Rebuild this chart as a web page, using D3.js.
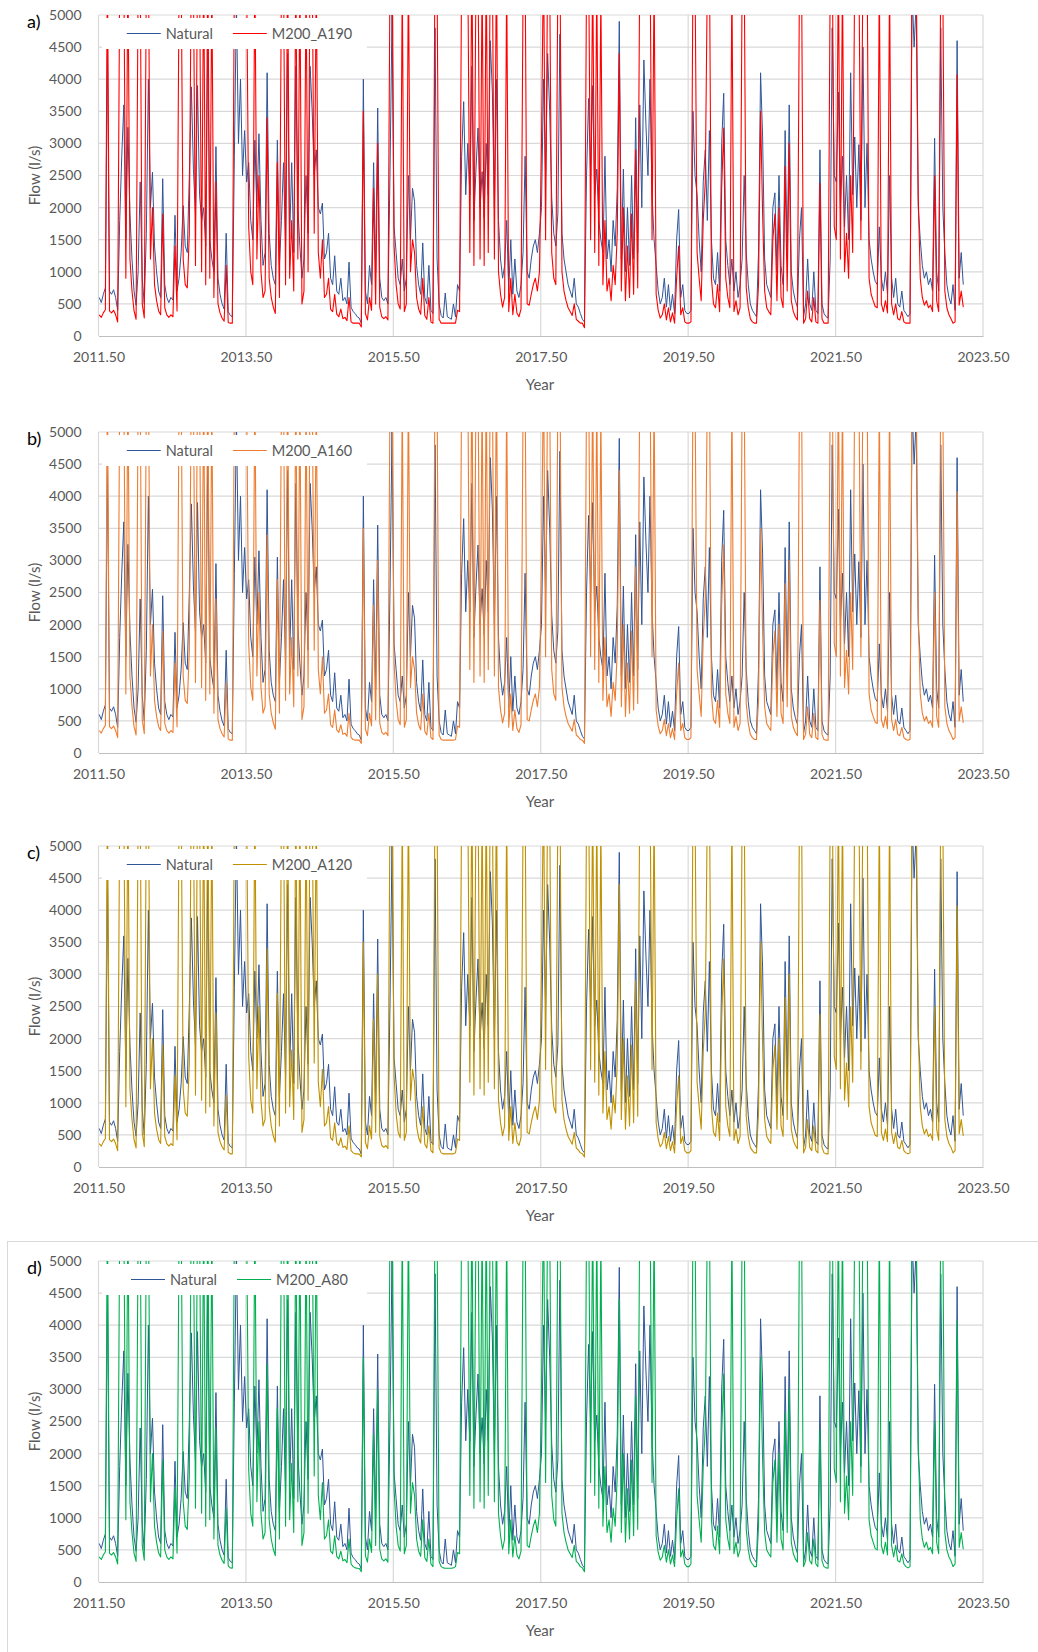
<!DOCTYPE html>
<html>
<head>
<meta charset="utf-8">
<script src="https://cdn.jsdelivr.net/npm/d3@7"></script>
<style>
  body { margin: 0; background: #fff; }
  svg { display: block; }
  text { font-family: Lato, "Open Sans", "Liberation Sans", sans-serif; }
</style>
</head>
<body>
<svg id="chart" width="1038" height="1652"></svg>
<script>
// Flow series sampled every 10 days (36 steps per year), starting July 2011.
const startYear = 2011.51;
const stepYears = 1 / 36;

const naturalFlow = [
  600,520,650,750,4600,700,650,720,600,400,1800,2800,3600,1500,3250,1900,1200,700,480,1000,2400,900,500,1600,4000,2000,2550,1400,1000,700,600,2450,800,600,520,600,
  560,1880,700,900,1300,2030,1400,1300,2500,3880,2600,1900,3900,2200,1800,2000,1400,4600,1500,1200,1000,2950,900,650,500,420,1600,380,320,300,2800,5200,3000,4000,2500,3200,
  2400,2700,1800,1500,3050,2000,3150,1800,1100,1300,4100,1600,1100,900,800,3050,1100,1800,2700,1400,4400,1500,2700,1300,4200,2000,1400,900,1200,2500,1600,4200,3500,2500,2900,2000,
  1900,2070,1200,1300,1600,900,800,1250,700,650,900,550,600,500,1150,450,380,350,300,280,200,4000,700,500,1100,800,2700,1000,3550,900,600,550,600,500,2500,5000,
  1700,1300,900,800,1200,700,900,2500,1500,2300,2100,1100,800,650,1450,600,500,1100,400,350,4800,1200,500,320,280,670,300,280,260,500,300,800,700,2800,3650,2200,
  3000,2200,4200,1800,2600,3240,2000,2560,1840,3000,2200,4600,3800,2000,4000,1800,1200,900,1100,1800,700,1500,650,1200,700,600,800,1300,2800,1000,900,1200,1400,1500,1300,1600,
  2000,4000,2500,4400,3500,2150,1600,1400,1900,4700,1600,1200,1000,800,700,600,900,500,450,350,260,220,2500,3700,2500,3900,2200,2600,1800,1500,1300,2800,1200,1500,1000,1800,
  1400,2300,4900,1200,2600,1000,2000,1100,2500,1200,3400,1300,3600,2000,4300,3300,2500,4000,2200,1500,1100,700,500,600,900,450,800,400,650,350,1500,1970,600,800,400,350,
  350,400,3500,2500,2200,1500,1000,2400,2900,1800,3200,1500,900,800,1300,700,3000,3780,1500,1100,800,1200,700,1000,600,800,1200,2500,1300,800,500,400,350,300,1300,4100,
  3100,1200,800,700,600,2000,2230,1000,2500,1100,800,3200,1200,3600,1000,700,550,450,1500,2000,300,500,1200,500,400,1000,400,350,2900,500,350,300,280,1200,4800,2500,
  2400,3800,2000,2800,1700,2500,1500,4100,2200,3100,2000,2980,1800,4500,2000,3000,1500,1200,1000,850,800,1700,900,700,1000,650,2500,900,600,900,500,450,700,400,350,300,
  350,5400,4500,5200,2000,1500,1100,900,1000,800,900,700,3080,1000,700,4800,2000,1300,800,600,500,800,400,4600,900,1300,800
];

const flowA190 = [
  330,290,360,410,5800,390,360,400,330,220,5600,6000,5800,900,5800,1200,700,390,260,5600,5800,500,280,5600,6000,1200,2000,800,550,390,330,1900,440,330,290,330,
  300,1400,390,5600,5800,1200,800,750,1600,6000,5600,1100,5800,5600,1000,5800,800,6000,900,5600,600,2400,500,360,280,230,1100,210,200,200,5600,6000,5800,6000,5600,5800,
  5600,1700,1000,800,5800,1200,2500,1000,600,700,3400,900,600,450,350,2700,600,5600,5800,800,6000,900,1800,700,5800,1200,5600,500,700,5600,1000,6000,5800,1600,5600,1300,
  900,1500,600,650,900,420,380,650,340,300,420,270,290,240,600,220,200,200,200,200,140,3500,350,250,600,400,2300,500,3000,450,300,270,300,250,5600,6000,
  1400,800,500,420,5600,380,500,5800,1000,1500,1300,600,420,340,900,320,260,600,220,200,6000,5600,260,200,200,200,200,200,200,200,200,400,380,5800,6000,5600,
  5800,1300,6000,1100,5600,5800,1200,5600,1100,5800,1300,6000,5800,1200,6000,1000,650,450,600,5600,380,900,330,650,360,300,420,5400,5800,500,480,650,800,900,700,1000,
  3000,6000,1500,5800,5600,1300,900,800,5600,6000,1000,700,550,440,380,320,500,260,230,200,200,130,5600,6000,1500,5800,1300,5600,1100,5400,800,1800,700,900,550,1100,
  800,1600,4400,700,2000,550,1400,600,1900,650,2900,750,5800,5600,6000,5600,5800,6000,1500,5600,650,400,280,330,500,250,440,220,360,200,900,1400,330,440,220,200,
  200,220,5800,5600,1300,900,550,1800,2400,5600,6000,900,500,440,800,380,2300,3240,900,600,440,5600,380,550,330,440,5600,5800,750,440,270,220,200,200,800,3500,
  1900,700,440,380,330,1500,1900,550,2000,600,440,2640,700,3000,550,380,300,250,5600,5800,200,270,700,270,220,600,220,200,2380,270,200,200,200,5600,6000,1700,
  1500,5800,1200,5600,1000,1600,900,2500,1300,5800,5600,6000,1500,5800,5600,6000,900,650,550,460,440,5600,500,380,550,360,5600,500,330,500,270,250,380,220,200,200,
  200,6000,5600,5800,2200,900,600,480,550,440,480,380,2500,550,380,5800,5600,700,440,330,270,200,220,4070,480,700,450
];

const flowA160 = [
  350,310,380,430,5800,410,380,420,350,240,5600,6000,5800,920,5800,1200,720,410,280,5600,5800,520,300,5600,6000,1200,2000,820,570,410,350,1900,460,350,310,350,
  320,1400,410,5600,5800,1200,820,770,1600,6000,5600,1100,5800,5600,1020,5800,820,6000,920,5600,620,2400,520,380,300,250,1100,220,200,200,5600,6000,5800,6000,5600,5800,
  5600,1700,1020,820,5800,1200,2500,1020,620,720,3400,920,620,470,370,2700,620,5600,5800,820,6000,920,1800,720,5800,1200,5600,520,720,5600,1020,6000,5800,1600,5600,1300,
  920,1500,620,670,920,440,400,670,360,320,440,290,310,260,620,240,210,200,200,200,150,3500,370,270,620,420,2300,520,3000,470,320,290,320,270,5600,6000,
  1400,820,520,440,5600,400,520,5800,1020,1500,1300,620,440,360,920,340,280,620,240,210,6000,5600,280,210,200,200,200,200,200,200,210,420,400,5800,6000,5600,
  5800,1300,6000,1100,5600,5800,1200,5600,1100,5800,1300,6000,5800,1200,6000,1020,670,470,620,5600,400,920,350,670,380,320,440,5400,5800,520,500,670,820,920,720,1020,
  3000,6000,1500,5800,5600,1300,920,820,5600,6000,1020,720,570,460,400,340,520,280,250,210,200,150,5600,6000,1500,5800,1300,5600,1100,5400,820,1800,720,920,570,1100,
  820,1600,4400,720,2000,570,1400,620,1900,670,2900,770,5800,5600,6000,5600,5800,6000,1500,5600,670,420,300,350,520,270,460,240,380,210,920,1400,350,460,240,210,
  210,240,5800,5600,1300,920,570,1800,2400,5600,6000,920,520,460,820,400,2300,3240,920,620,460,5600,400,570,350,460,5600,5800,770,460,290,240,210,210,820,3500,
  1900,720,460,400,350,1500,1900,570,2000,620,460,2640,720,3000,570,400,320,270,5600,5800,210,290,720,290,240,620,240,210,2380,290,210,200,200,5600,6000,1700,
  1500,5800,1200,5600,1020,1600,920,2500,1300,5800,5600,6000,1500,5800,5600,6000,920,670,570,480,460,5600,520,400,570,380,5600,520,350,520,290,270,400,240,210,200,
  210,6000,5600,5800,2200,920,620,500,570,460,500,400,2500,570,400,5800,5600,720,460,350,290,210,240,4070,500,720,470
];

const flowA120 = [
  365,325,395,445,5800,425,395,435,365,255,5600,6000,5800,940,5800,1220,740,425,295,5600,5800,540,315,5600,6000,1220,2000,840,590,425,365,1900,475,365,325,365,
  335,1420,425,5600,5800,1220,840,790,1620,6000,5600,1120,5800,5600,1040,5800,840,6000,940,5600,640,2400,540,395,315,265,1120,230,205,205,5600,6000,5800,6000,5600,5800,
  5600,1720,1040,840,5800,1220,2500,1040,640,740,3400,940,640,485,385,2700,640,5600,5800,840,6000,940,1820,740,5800,1220,5600,540,740,5600,1040,6000,5800,1620,5600,1320,
  940,1520,640,690,940,455,415,690,375,335,455,305,325,275,640,255,220,205,205,200,155,3500,385,285,640,435,2300,540,3000,485,335,305,335,285,5600,6000,
  1420,840,540,455,5600,415,540,5800,1040,1520,1320,640,455,375,940,355,295,640,255,220,6000,5600,295,220,205,205,205,205,205,205,220,435,415,5800,6000,5600,
  5800,1320,6000,1120,5600,5800,1220,5600,1120,5800,1320,6000,5800,1220,6000,1040,690,485,640,5600,415,940,365,690,395,335,455,5400,5800,540,515,690,840,940,740,1040,
  3000,6000,1520,5800,5600,1320,940,840,5600,6000,1040,740,590,475,415,355,540,295,265,220,205,155,5600,6000,1520,5800,1320,5600,1120,5400,840,1800,740,940,590,1120,
  840,1620,4400,740,2000,590,1420,640,1900,690,2900,790,5800,5600,6000,5600,5800,6000,1520,5600,690,435,315,365,540,285,475,255,395,220,940,1420,365,475,255,220,
  220,255,5800,5600,1320,940,590,1800,2400,5600,6000,940,540,475,840,415,2300,3240,940,640,475,5600,415,590,365,475,5600,5800,790,475,305,255,220,220,840,3500,
  1900,740,475,415,365,1520,1900,590,2000,640,475,2640,740,3000,590,415,335,285,5600,5800,220,305,740,305,255,640,255,220,2380,305,220,205,205,5600,6000,1720,
  1520,5800,1220,5600,1040,1620,940,2500,1320,5800,5600,6000,1520,5800,5600,6000,940,690,590,495,475,5600,540,415,590,395,5600,540,365,540,305,285,415,255,220,205,
  220,6000,5600,5800,2200,940,640,515,590,475,515,415,2500,590,415,5800,5600,740,475,365,305,220,255,4070,515,740,485
];

const flowA80 = [
  390,350,420,470,5800,450,420,460,390,280,5600,6000,5800,970,5800,1250,770,450,320,5600,5800,570,340,5600,6000,1250,2000,870,620,450,390,1900,500,390,350,390,
  360,1450,450,5600,5800,1250,870,820,1650,6000,5600,1150,5800,5600,1070,5800,870,6000,970,5600,670,2400,570,420,340,290,1150,250,220,215,5600,6000,5800,6000,5600,5800,
  5600,1750,1070,870,5800,1250,2500,1070,670,770,3400,970,670,510,410,2700,670,5600,5800,870,6000,970,1850,770,5800,1250,5600,570,770,5600,1070,6000,5800,1650,5600,1350,
  970,1550,670,720,970,480,440,720,400,360,480,330,350,300,670,280,240,220,215,210,160,3500,410,310,670,460,2300,570,3000,510,360,330,360,310,5600,6000,
  1450,870,570,480,5600,440,570,5800,1070,1550,1350,670,480,400,970,380,320,670,280,240,6000,5600,320,240,220,215,215,215,215,220,240,460,440,5800,6000,5600,
  5800,1350,6000,1150,5600,5800,1250,5600,1150,5800,1350,6000,5800,1250,6000,1070,720,510,670,5600,440,970,390,720,420,360,480,5400,5800,570,540,720,870,970,770,1070,
  3000,6000,1550,5800,5600,1350,970,870,5600,6000,1070,770,620,500,440,380,570,320,290,240,220,160,5600,6000,1550,5800,1350,5600,1150,5400,870,1800,770,970,620,1150,
  870,1650,4400,770,2000,620,1450,670,1900,720,2900,820,5800,5600,6000,5600,5800,6000,1550,5600,720,460,340,390,570,310,500,280,420,240,970,1450,390,500,280,240,
  240,280,5800,5600,1350,970,620,1800,2400,5600,6000,970,570,500,870,440,2300,3240,970,670,500,5600,440,620,390,500,5600,5800,820,500,330,280,240,240,870,3500,
  1900,770,500,440,390,1550,1900,620,2000,670,500,2640,770,3000,620,440,360,310,5600,5800,240,330,770,330,280,670,280,240,2380,330,240,220,215,5600,6000,1750,
  1550,5800,1250,5600,1070,1650,970,2500,1350,5800,5600,6000,1550,5800,5600,6000,970,720,620,520,500,5600,570,440,620,420,5600,570,390,570,330,310,440,280,240,220,
  240,6000,5600,5800,2200,970,670,540,620,500,540,440,2500,620,440,5800,5600,770,500,390,330,240,280,4070,540,770,510
];

const scenarioNames = ["M200_A190", "M200_A160", "M200_A120", "M200_A80"];
const scenarioColors = ["#FF0000", "#ED7D31", "#BF9000", "#00B050"];
const panelLetters = ["a)", "b)", "c)", "d)"];
const yearTicks = [2011.5, 2013.5, 2015.5, 2017.5, 2019.5, 2021.5, 2023.5];
const flowTicks = [0, 500, 1000, 1500, 2000, 2500, 3000, 3500, 4000, 4500, 5000];

const scenarioSeries = [flowA190, flowA160, flowA120, flowA80];
const naturalColor = "#2F5597";
const textGrey = "#595959";
const gridGrey = "#D9D9D9";

const svg = d3.select("#chart");
svg.append("rect").attr("width", 1038).attr("height", 1652).attr("fill", "#fff");

// Frame around the last chart
svg.append("rect")
  .attr("x", 7.5).attr("y", 1241.5)
  .attr("width", 1100).attr("height", 600)
  .attr("fill", "none").attr("stroke", gridGrey).attr("stroke-width", 1);

const plotLeft = 98.5, plotRight = 983, plotH = 321;
const panelTops = [15, 432, 846, 1261];

const x = d3.scaleLinear().domain([2011.5, 2023.5]).range([plotLeft, plotRight]);
const y = d3.scaleLinear().domain([0, 5000]).range([plotH, 0]);

const line = d3.line()
  .x((d, i) => x(startYear + i * stepYears))
  .y(d => y(d));

scenarioSeries.forEach((series, p) => {
  const g = svg.append("g").attr("transform", `translate(0,${panelTops[p]})`);

  // gridlines
  g.append("g").selectAll("line.h")
    .data(flowTicks.filter(v => v > 0))
    .join("line")
    .attr("x1", plotLeft).attr("x2", plotRight)
    .attr("y1", d => y(d)).attr("y2", d => y(d))
    .attr("stroke", gridGrey).attr("stroke-width", 1.2);
  g.append("g").selectAll("line.v")
    .data(yearTicks)
    .join("line")
    .attr("x1", d => x(d)).attr("x2", d => x(d))
    .attr("y1", 0).attr("y2", plotH)
    .attr("stroke", gridGrey).attr("stroke-width", 1.2);

  // axes
  const yAxis = g.append("g")
    .attr("transform", `translate(${plotLeft},0)`)
    .call(d3.axisLeft(y).tickValues(flowTicks).tickFormat(d3.format("d")).tickSize(0).tickPadding(17));
  yAxis.select(".domain").remove();
  yAxis.selectAll("text").attr("fill", textGrey).style("font-size", "14px")
    .style("font-family", "Lato, 'Open Sans', sans-serif");

  const xAxis = g.append("g")
    .attr("transform", `translate(0,${plotH})`)
    .call(d3.axisBottom(x).tickValues(yearTicks).tickFormat(d3.format(".2f")).tickSize(0).tickPadding(16));
  xAxis.select(".domain").attr("stroke", "#BFBFBF").attr("stroke-width", 1.2);
  xAxis.selectAll("text").attr("fill", textGrey).style("font-size", "14px")
    .style("font-family", "Lato, 'Open Sans', sans-serif");

  // series, clipped to the plot area
  const clipId = "clip" + p;
  g.append("clipPath").attr("id", clipId)
    .append("rect").attr("x", plotLeft).attr("y", 0)
    .attr("width", plotRight - plotLeft).attr("height", plotH);
  const lines = g.append("g").attr("clip-path", `url(#${clipId})`);
  lines.append("path").datum(naturalFlow)
    .attr("d", line).attr("fill", "none")
    .attr("stroke", naturalColor).attr("stroke-width", 1).attr("stroke-linejoin", "round");
  lines.append("path").datum(series)
    .attr("d", line).attr("fill", "none")
    .attr("stroke", scenarioColors[p]).attr("stroke-width", 1.1).attr("stroke-linejoin", "round");

  // legend
  g.append("rect").attr("x", 102).attr("y", 3).attr("width", 265).attr("height", 31).attr("fill", "#fff");
  const leg = g.append("g");
  const items = [
    { name: "Natural", color: naturalColor },
    { name: scenarioNames[p], color: scenarioColors[p] }
  ];
  const widths = [];
  items.forEach(it => {
    const t = leg.append("text").text(it.name).style("font-size", "14.5px");
    widths.push(t.node().getComputedTextLength());
    t.remove();
  });
  const sw = 34, gap = 5, between = 20;
  const total = sw + gap + widths[0] + between + sw + gap + widths[1];
  let cx = 239.5 - total / 2;
  items.forEach((it, i) => {
    leg.append("line").attr("x1", cx).attr("x2", cx + sw).attr("y1", 18.5).attr("y2", 18.5)
      .attr("stroke", it.color).attr("stroke-width", 1.2);
    leg.append("text").attr("x", cx + sw + gap).attr("y", 18.5).attr("dy", "0.35em")
      .text(it.name).attr("fill", textGrey).style("font-size", "14.5px");
    cx += sw + gap + widths[i] + between;
  });

  // titles
  g.append("text").attr("x", 540).attr("y", plotH + 49).attr("dy", "0.35em")
    .attr("text-anchor", "middle").attr("fill", textGrey).style("font-size", "15px").text("Year");
  g.append("text").attr("transform", `translate(35,${plotH / 2}) rotate(-90)`)
    .attr("dy", "0.35em").attr("text-anchor", "middle").attr("fill", textGrey)
    .style("font-size", "15px").text("Flow (l/s)");
  g.append("text").attr("x", 27).attr("y", 7).attr("dy", "0.35em")
    .attr("fill", "#000").style("font-size", "18px").text(panelLetters[p]);
});
</script>
</body>
</html>
